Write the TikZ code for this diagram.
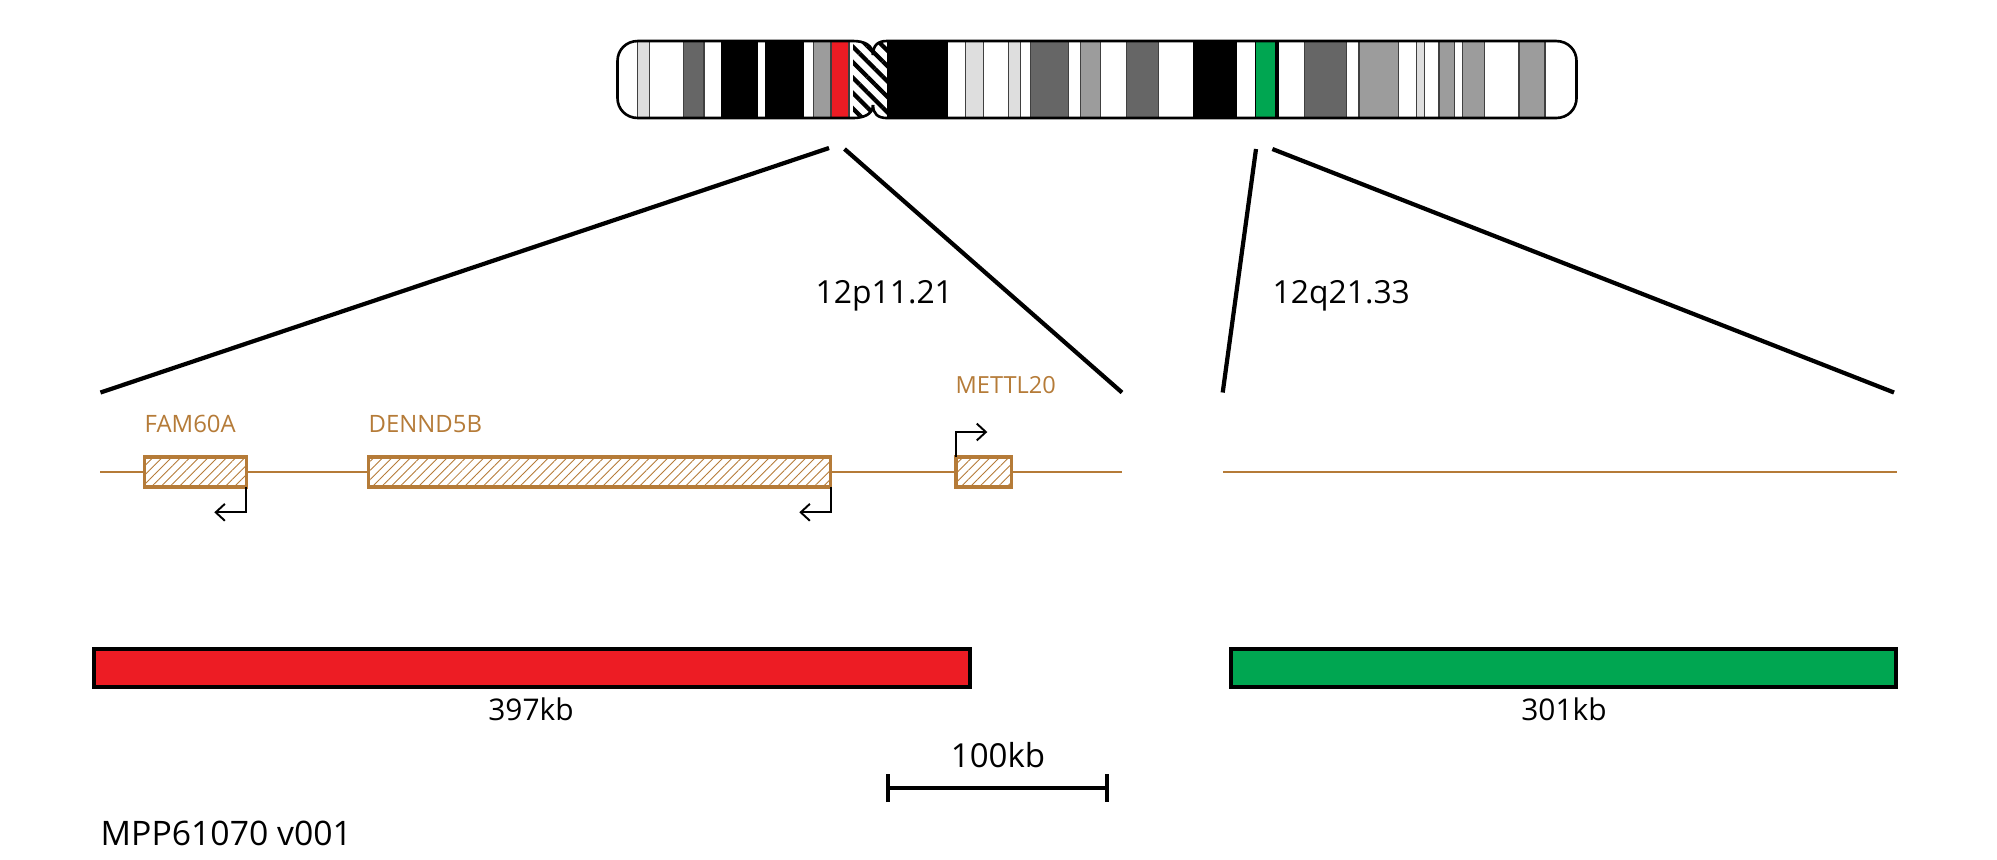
\documentclass[tikz,border=0pt]{standalone}
\usepackage{fontspec}
\setmainfont{Open Sans}
\usepackage{xcolor}
\usetikzlibrary{arrows.meta,patterns.meta}

\definecolor{genecol}{HTML}{B57B38}
\definecolor{redband}{HTML}{ED1C24}
\definecolor{greenband}{HTML}{00A651}

\tikzset{
  lightband/.style={draw=black!75,line width=0.3pt,fill=black!13},
  midband/.style={draw=black!75,line width=0.3pt,fill=black!39},
  darkband/.style={draw=black!75,line width=0.3pt,fill=black!60},
  blackband/.style={fill=black},
  outline/.style={draw=black,line width=0.75pt},
  zoomline/.style={draw=black,line width=1.2pt},
  geneline/.style={draw=genecol,line width=0.55pt},
  genebox/.style={draw=genecol,line width=0.95pt,inner sep=0pt,outer sep=0pt,minimum height=0.3cm,
    pattern={Lines[angle=45,distance=1.85pt,line width=0.25pt]},pattern color=genecol},
  tssarrow/.style={draw=black,line width=0.55pt,-{Straight Barb[length=2.6pt,width=4.8pt]}},
  regionbar/.style={draw=black,line width=1.15pt,inner sep=0pt,minimum height=0.38cm},
  scalebar/.style={draw=black,line width=1.15pt,{Bar[width=7.9pt]}-{Bar[width=7.9pt]}}
}

\begin{document}
\begin{tikzpicture}[x=0.01cm,y=-0.01cm]
\useasboundingbox (0,0) rectangle (1997,859);

% p arm bands
\path[lightband] (637.7,41) rectangle (649.7,118);
\path[darkband] (683.3,41) rectangle (704,118);
\path[blackband] (721,41) rectangle (757.7,118);
\path[blackband] (765,41) rectangle (804,118);
\path[midband] (813.3,41) rectangle (831,118);
\path[draw=black!75,line width=0.3pt,fill=redband] (831,41) rectangle (849,118);

% centromere
\fill[pattern={Lines[angle=-45,distance=3.1pt,line width=1.2pt]}]
  (853,41) .. controls (864,41) and (873,45) .. (873,55) .. controls (873,45) and (878,41) .. (887,41)
  -- (887,118) .. controls (878,118) and (873,114) .. (873,105) .. controls (873,114) and (864,118) .. (853,118) -- cycle;

% q arm bands
\path[blackband] (887,41) rectangle (947.7,118);
\path[lightband] (965.7,41) rectangle (983.3,118);
\path[lightband] (1008.4,41) rectangle (1020.3,118);
\path[darkband] (1030.2,41) rectangle (1068.9,118);
\path[midband] (1080.7,41) rectangle (1100.3,118);
\path[darkband] (1126.3,41) rectangle (1158.8,118);
\path[blackband] (1192.5,41) rectangle (1237.3,118);
\path[draw=black,line width=0.5pt,fill=greenband] (1255.6,41) rectangle (1275.5,118);
\path[blackband] (1275.5,41) rectangle (1278.6,118);
\path[darkband] (1304.6,41) rectangle (1346.7,118);
\path[midband] (1359,41) rectangle (1398.8,118);
\path[lightband] (1416.8,41) rectangle (1424.4,118);
\path[midband] (1439,41) rectangle (1454.6,118);
\path[midband] (1462.7,41) rectangle (1484.9,118);
\path[midband] (1519,41) rectangle (1545,118);

% chromosome outline
\path[outline] (873,55) .. controls (873,45) and (864,41) .. (853,41) -- (638,41)
  .. controls (626,41) and (617.5,50) .. (617.5,61) -- (617.5,98)
  .. controls (617.5,109) and (626,118) .. (638,118) -- (853,118)
  .. controls (864,118) and (873,114) .. (873,105);
\path[outline] (873,55) .. controls (873,45) and (878,41) .. (887,41) -- (1556,41)
  .. controls (1568,41) and (1576.5,50) .. (1576.5,61) -- (1576.5,98)
  .. controls (1576.5,109) and (1568,118) .. (1556,118) -- (887,118)
  .. controls (878,118) and (873,114) .. (873,105);

% zoom lines
\coordinate (zoomA) at (829,148);
\coordinate (zoomB) at (100.5,392.5);
\coordinate (zoomC) at (844.5,149);
\coordinate (zoomD) at (1122,392.5);
\coordinate (zoomE) at (1256,149);
\coordinate (zoomF) at (1222.7,392.5);
\coordinate (zoomG) at (1272.4,149);
\coordinate (zoomH) at (1894,392.5);
\draw[zoomline] (zoomA) -- (zoomB);
\draw[zoomline] (zoomC) -- (zoomD);
\draw[zoomline] (zoomE) -- (zoomF);
\draw[zoomline] (zoomG) -- (zoomH);

% genes
\node[genebox,minimum width=1.02cm] (fam) at (195.3,472) {};
\node[genebox,minimum width=4.622cm] (den) at (599.5,472) {};
\node[genebox,minimum width=0.552cm] (met) at (983.7,472) {};

\coordinate (lineA) at (100,472);
\coordinate (lineB) at (1122,472);
\coordinate (lineC) at (1223,472);
\coordinate (lineD) at (1897,472);
\draw[geneline] (lineA) -- (fam);
\draw[geneline] (fam) -- (den);
\draw[geneline] (den) -- (met);
\draw[geneline] (met) -- (lineB);
\draw[geneline] (lineC) -- (lineD);

\coordinate (famtip) at (214.3,512.3);
\coordinate (dentip) at (799.3,512.3);
\coordinate (mettip) at (987.3,432);
\draw[tssarrow] (fam.south east) |- (famtip);
\draw[tssarrow] (den.south east) |- (dentip);
\draw[tssarrow] (met.north west) |- (mettip);

% region bars
\node[regionbar,fill=redband,minimum width=8.759cm] (redbar) at (531.75,668.3) {};
\node[regionbar,fill=greenband,minimum width=6.644cm] (greenbar) at (1563.8,668.3) {};

% scale
\coordinate (scaleA) at (886.3,788.3);
\coordinate (scaleB) at (1109,788.3);
\draw[scalebar] (scaleA) -- (scaleB);

% labels
\begin{scope}[every node/.style={inner sep=0pt,anchor=base west}]
\node[text=genecol,font=\fontsize{6.8}{8}\selectfont] (famlabel) at (144,432.7) {FAM60A};
\node[text=genecol,font=\fontsize{6.8}{8}\selectfont] (denlabel) at (368,432.7) {DENND5B};
\node[text=genecol,font=\fontsize{6.7}{8}\selectfont] (metlabel) at (955,393) {METTL20};
\node[font=\fontsize{9.05}{11}\selectfont] (plabel) at (815,303) {12p11.21};
\node[font=\fontsize{9.05}{11}\selectfont] (qlabel) at (1272,303) {12q21.33};
\node[font=\fontsize{8.5}{10}\selectfont,anchor=base] (redlabel) at (531,720.7) {397kb};
\node[font=\fontsize{8.5}{10}\selectfont,anchor=base] (greenlabel) at (1564,720.7) {301kb};
\node[font=\fontsize{9.4}{11}\selectfont,anchor=base] (scalelabel) at (998,767.3) {100kb};
\node[font=\fontsize{9.6}{11}\selectfont] (versionlabel) at (100,845) {MPP61070 v001};
\end{scope}

\end{tikzpicture}
\end{document}
